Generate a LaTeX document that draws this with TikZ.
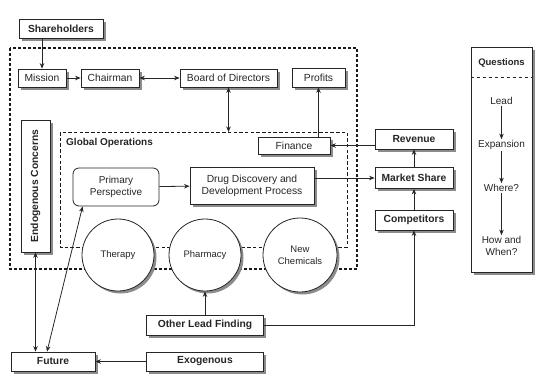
\documentclass[tikz,border=0pt]{standalone}
\usepackage{fontspec}
\setmainfont{Liberation Sans}
\usetikzlibrary{shadows,arrows.meta,calc}
\begin{document}
\begin{tikzpicture}[x=1pt,y=-1pt,
  lc/.style={draw=black!85},
  shad/.style={drop shadow={shadow xshift=2.5pt,shadow yshift=-2.5pt,fill=black!45,opacity=1}},
  box/.style={lc,line width=0.8pt,fill=white,shad,inner sep=0pt,align=center,font=\fontsize{10.3}{12}\selectfont,text=black!85},
  bbox/.style={box,font=\fontsize{10.3}{12}\selectfont\bfseries},
  circ/.style={circle,lc,line width=0.8pt,fill=white,shad,minimum size=72pt,inner sep=0pt,align=center,font=\fontsize{9.5}{12}\selectfont,text=black!85},
  arr/.style={-{Stealth[length=5.5pt,width=4.5pt]},line width=0.8pt,draw=black!85},
  darr/.style={{Stealth[length=5.5pt,width=4.5pt]}-{Stealth[length=5.5pt,width=4.5pt]},line width=0.8pt,draw=black!85},
  dashbox/.style={draw=black!90,line width=1.3pt,dash pattern=on 3pt off 2pt},
  qtext/.style={inner sep=1pt,font=\fontsize{10}{12}\selectfont,text=black!85,align=center}
]
\useasboundingbox (0,0) rectangle (539,373);
% dashed frames
\draw[dashbox] (10,48) rectangle (357,269);
\draw[dashbox,line width=1pt,dash pattern=on 3.5pt off 2.2pt] (60,132) rectangle (347,247);
\coordinate (gotop) at (228.5,132);
\node[anchor=west,inner sep=0pt,font=\fontsize{10}{12}\selectfont\bfseries,text=black!85] (golab) at (66,143) {Global Operations};
% boxes
\node[bbox,minimum width=84pt,minimum height=19pt] (sh) at (61,28.5) {Shareholders};
\node[box,minimum width=48pt,minimum height=18pt] (mis) at (42,78) {Mission};
\node[box,minimum width=58pt,minimum height=18pt] (cha) at (110,78) {Chairman};
\node[box,minimum width=97pt,minimum height=18pt] (bod) at (228.5,78) {Board of Directors};
\node[box,minimum width=53pt,minimum height=19pt] (pro) at (318.5,77.5) {Profits};
\node[box,minimum width=72pt,minimum height=17pt] (fin) at (294,145.5) {Finance};
\node[box,minimum width=29pt,minimum height=132pt] (endo) at (35.5,186) {};
\node[rotate=90,inner sep=0pt,font=\fontsize{10.3}{12}\selectfont\bfseries,text=black!85] (endotxt) at (endo) {Endogenous Concerns};
\node[draw=black!85,line width=0.8pt,fill=white,rounded corners=6pt,minimum width=86pt,minimum height=38pt,inner sep=0pt,align=center,font=\fontsize{10}{12}\selectfont,text=black!85] (pp) at (116,187) {Primary\\Perspective};
\node[box,minimum width=124pt,minimum height=37pt] (dd) at (252,185.5) {Drug Discovery and\\Development Process};
\node[bbox,minimum width=78pt,minimum height=20pt] (rev) at (414,139) {Revenue};
\node[bbox,minimum width=78pt,minimum height=21pt] (ms) at (414,178) {Market Share};
\node[bbox,minimum width=78pt,minimum height=20pt] (comp) at (414,220) {Competitors};
% circles
\node[circ] (th) at (118,255) {Therapy};
\node[circ] (ph) at (205,255) {Pharmacy};
\node[circ,minimum size=74pt] (nc) at (300,255) {New\\Chemicals};
% bottom boxes
\node[bbox,minimum width=117pt,minimum height=20pt] (olf) at (205,325) {Other Lead Finding};
\node[bbox,minimum width=117pt,minimum height=19pt] (exo) at (205,361.5) {Exogenous};
\node[bbox,minimum width=84pt,minimum height=19pt] (fut) at (53,361.5) {Future};
% questions
\node[draw=black!85,line width=0.8pt,fill=white,shad,minimum width=61pt,minimum height=225pt,inner sep=0pt] (qbox) at (501.5,159.5) {};
\node[qtext,font=\fontsize{9.5}{12}\selectfont\bfseries] (qh) at (501.5,63) {Questions};
\draw[black!85,line width=0.8pt,dashed] (qbox.west |- 0,77) -- (qbox.east |- 0,77);
\node[qtext] (ql) at (501.5,101) {Lead};
\node[qtext] (qe) at (501.5,145) {Expansion};
\node[qtext] (qw) at (501.5,188) {Where?};
\node[qtext] (qhw) at (501.5,246) {How and\\When?};
\draw[arr] (ql) -- (qe);
\draw[arr] (qe) -- (qw);
\draw[arr] (qw) -- (qhw);
% connectors
\draw[arr] (mis.north |- sh.south) -- (mis.north);
\draw[arr] (mis) -- (cha);
\draw[darr] (cha) -- (bod);
\draw[darr] (bod.south) -- (gotop);
\draw[arr] (pro.south |- fin.north) -- (pro.south);
\draw[arr] (rev.west |- fin.east) -- (fin.east);
\draw[arr] (dd.east |- ms.west) -- (ms.west);
\draw[arr] (ms) -- (rev);
\draw[arr] (comp) -- (ms);
\draw[arr] (pp) -- (dd);
\draw[arr] (olf.north) -- (ph.south);
\draw[arr] (olf.east) -| (comp.south);
\draw[arr] (exo) -- (fut);
\draw[darr] (endo.south) -- (endo.south |- fut.north);
\draw[darr] ([xshift=-6pt]fut.north) -- ([xshift=10pt]pp.south west);
\end{tikzpicture}
\end{document}
